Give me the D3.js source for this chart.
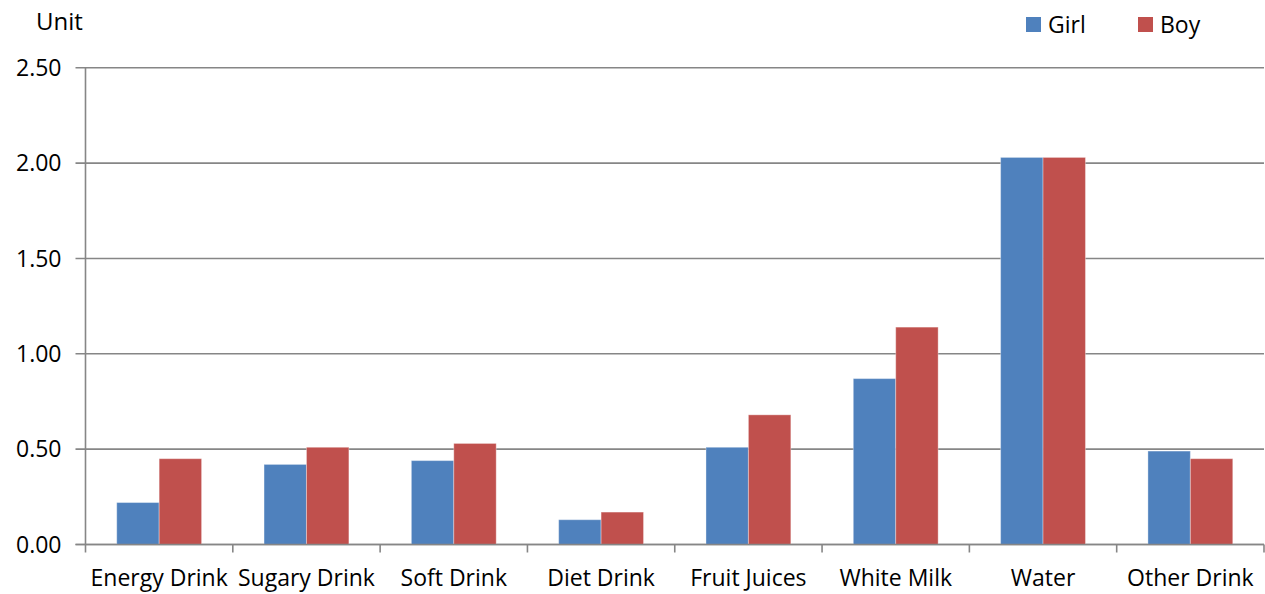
<!DOCTYPE html>
<html>
<head>
<meta charset="utf-8">
<script src="https://cdn.jsdelivr.net/npm/d3@7"></script>
<style>
  html, body { margin: 0; padding: 0; background: #fff; }
  svg { display: block; }
  text { font-family: "Open Sans", "Noto Sans", sans-serif; fill: #000; }
</style>
</head>
<body>
<svg id="chart" width="1265" height="594"></svg>
<script>
// Average daily consumption per drink type, by gender
const categories = ["Energy Drink", "Sugary Drink", "Soft Drink", "Diet Drink",
                    "Fruit Juices", "White Milk", "Water", "Other Drink"];
const girlValues = [0.22, 0.42, 0.44, 0.13, 0.51, 0.87, 2.03, 0.49];
const boyValues  = [0.45, 0.51, 0.53, 0.17, 0.68, 1.14, 2.03, 0.45];
const seriesNames = ["Girl", "Boy"];
const seriesColors = ["#4F81BD", "#C0504D"];
const yTicks = [0, 0.5, 1.0, 1.5, 2.0, 2.5];

(function () {
  const svg = d3.select("#chart");
  const plotLeft = 85.5, plotRight = 1264, plotTop = 67.8, plotBottom = 544.5;
  const fontSize = 23;
  const gridColor = "#868686";
  const fontFamily = '"Open Sans", "Noto Sans", sans-serif';

  const x0 = d3.scaleBand().domain(categories).range([plotLeft, plotRight]).padding(0);
  const x1 = d3.scaleBand().domain(seriesNames)
    .range([x0.step() * 0.212, x0.step() * 0.788]).padding(0);
  const y = d3.scaleLinear().domain([0, 2.5]).range([plotBottom, plotTop]);

  // horizontal gridlines
  svg.append("g")
    .selectAll("line")
    .data(yTicks)
    .join("line")
    .attr("x1", plotLeft - 10).attr("x2", plotRight)
    .attr("y1", d => y(d)).attr("y2", d => y(d))
    .attr("stroke", gridColor).attr("stroke-width", 1.6);

  // y axis labels
  const yAxis = d3.axisLeft(y).tickValues(yTicks).tickFormat(d3.format(".2f"))
    .tickSize(0).tickPadding(24);
  const gy = svg.append("g").attr("transform", `translate(${plotLeft},0)`).call(yAxis);
  gy.select(".domain").remove();
  gy.selectAll("text").style("font-size", fontSize + "px")
    .style("font-family", fontFamily)
    .attr("dy", "0.33em");

  // bars
  const rows = categories.map((c, i) => ({ cat: c, values: [girlValues[i], boyValues[i]] }));
  svg.append("g")
    .selectAll("g")
    .data(rows)
    .join("g")
    .attr("transform", d => `translate(${x0(d.cat)},0)`)
    .selectAll("rect")
    .data(d => d.values.map((v, k) => ({ key: seriesNames[k], value: v, color: seriesColors[k] })))
    .join("rect")
    .attr("x", d => x1(d.key))
    .attr("width", x1.bandwidth())
    .attr("y", d => y(d.value))
    .attr("height", d => y(0) - y(d.value))
    .attr("fill", d => d.color)
    .attr("stroke", "rgba(255,255,255,0.35)")
    .attr("stroke-width", 1);

  // vertical axis line
  svg.append("line")
    .attr("x1", plotLeft).attr("x2", plotLeft)
    .attr("y1", plotTop).attr("y2", plotBottom)
    .attr("stroke", gridColor).attr("stroke-width", 1.6);

  // x axis with category labels
  const xAxis = d3.axisBottom(x0).tickSize(0).tickPadding(25);
  const gx = svg.append("g").attr("transform", `translate(0,${plotBottom})`).call(xAxis);
  gx.select(".domain").remove();
  gx.selectAll("text").style("font-size", fontSize + "px")
    .style("font-family", fontFamily);

  // baseline and category boundary ticks
  svg.append("line")
    .attr("x1", plotLeft - 10).attr("x2", plotRight)
    .attr("y1", plotBottom).attr("y2", plotBottom)
    .attr("stroke", gridColor).attr("stroke-width", 1.6);
  const bounds = categories.map(c => x0(c)).concat([x0(categories[categories.length - 1]) + x0.step()]);
  svg.append("g")
    .selectAll("line")
    .data(bounds)
    .join("line")
    .attr("x1", d => d).attr("x2", d => d)
    .attr("y1", plotBottom).attr("y2", plotBottom + 8)
    .attr("stroke", gridColor).attr("stroke-width", 1.6);

  // axis unit label
  svg.append("text")
    .attr("x", 36).attr("y", 30)
    .style("font-size", "24px")
    .text("Unit");

  // legend
  const legendX = [1026, 1138];
  const legend = svg.append("g")
    .selectAll("g")
    .data(seriesNames)
    .join("g")
    .attr("transform", (d, i) => `translate(${legendX[i]},17)`);
  legend.append("rect")
    .attr("width", 15).attr("height", 15)
    .attr("fill", (d, i) => seriesColors[i]);
  legend.append("text")
    .attr("x", 22).attr("y", 15.5)
    .style("font-size", fontSize + "px")
    .text(d => d);
})();
</script>
</body>
</html>
